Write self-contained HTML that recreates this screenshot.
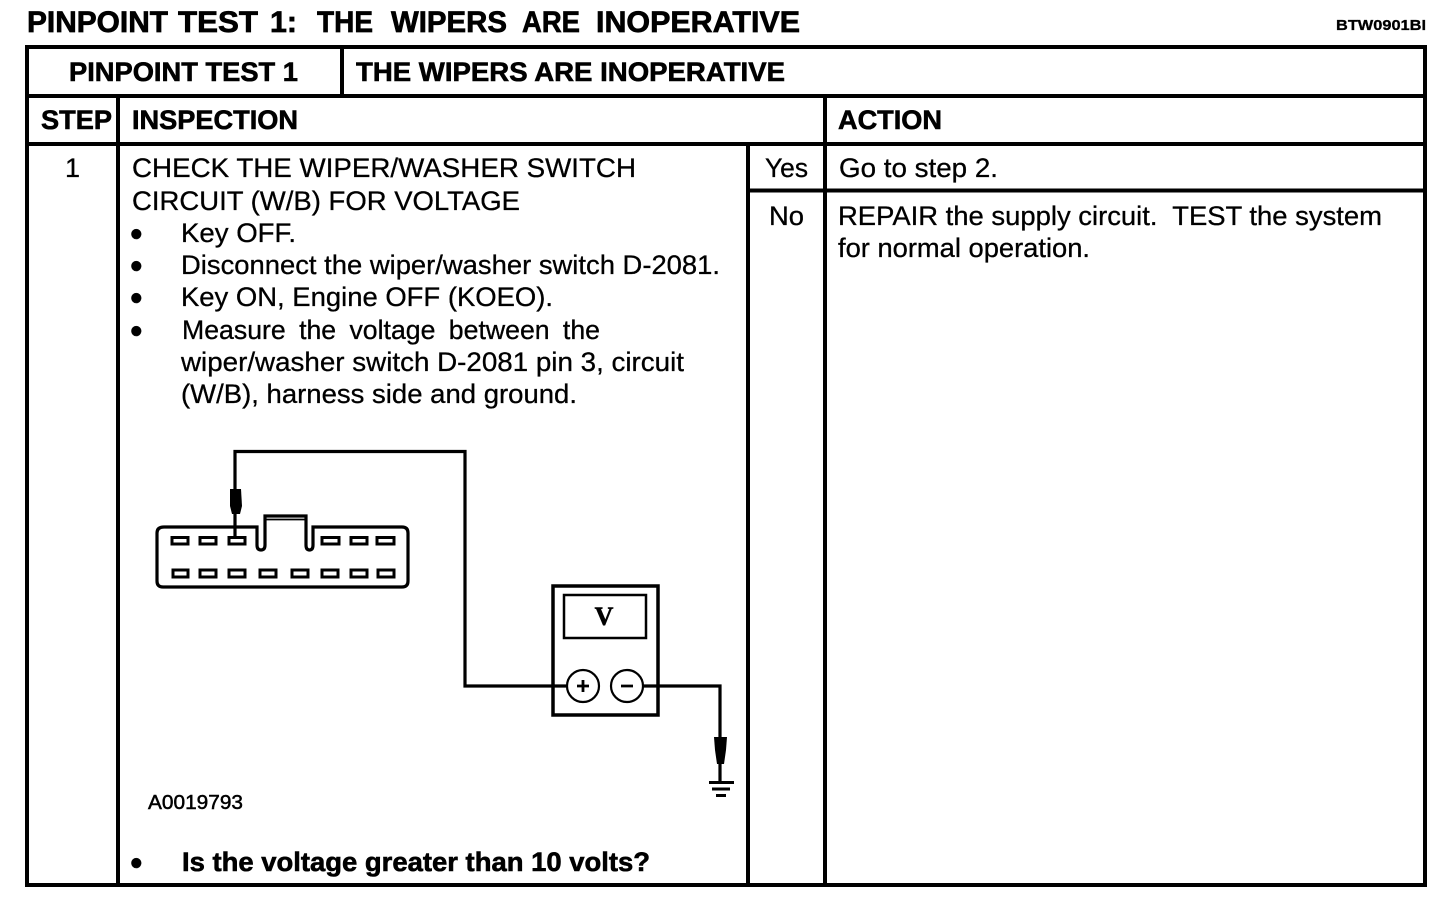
<!DOCTYPE html>
<html>
<head>
<meta charset="utf-8">
<title>Pinpoint Test 1</title>
<style>
html,body{margin:0;padding:0;background:#fff;width:1456px;height:910px;overflow:hidden}
svg{display:block}
text{font-family:"Liberation Sans",sans-serif;fill:#000;stroke:#000;stroke-width:.3px}
.b{font-weight:bold}
.t{font-size:30px;font-weight:bold;stroke-width:.7px}
.h{font-size:27px;font-weight:bold;stroke-width:.6px}
.r{font-size:27px}
.d{font-size:36px;stroke-width:.5px}
</style>
</head>
<body>
<svg width="1456" height="910" viewBox="0 0 1456 910" xmlns="http://www.w3.org/2000/svg">
<rect width="1456" height="910" fill="#fff"/>

<!-- title -->
<text class="t" y="32" x="27" textLength="141" lengthAdjust="spacingAndGlyphs">PINPOINT</text>
<text class="t" y="32" x="178" textLength="80" lengthAdjust="spacingAndGlyphs">TEST</text>
<text class="t" y="32" x="270" textLength="27" lengthAdjust="spacingAndGlyphs">1:</text>
<text class="t" y="32" x="317" textLength="56" lengthAdjust="spacingAndGlyphs">THE</text>
<text class="t" y="32" x="391" textLength="116" lengthAdjust="spacingAndGlyphs">WIPERS</text>
<text class="t" y="32" x="522" textLength="58" lengthAdjust="spacingAndGlyphs">ARE</text>
<text class="t" y="32" x="596" textLength="204" lengthAdjust="spacingAndGlyphs">INOPERATIVE</text>
<text class="b" style="font-size:15px" x="1336" y="30" textLength="90" lengthAdjust="spacingAndGlyphs">BTW0901BI</text>

<!-- table -->
<g fill="none" stroke="#000">
<rect x="27" y="47" width="1398" height="838" stroke-width="4"/>
<path d="M27 96H1425M27 144H1425M748 190.500H1425" stroke-width="4"/>
<path d="M342 47V96M118 96V885M825 96V885M748 144V885" stroke-width="4"/>
</g>

<!-- header text -->
<text class="h" x="69" y="81" textLength="229" lengthAdjust="spacingAndGlyphs">PINPOINT TEST 1</text>
<text class="h" x="356" y="81" textLength="429" lengthAdjust="spacingAndGlyphs">THE WIPERS ARE INOPERATIVE</text>
<text class="h" x="41" y="129" textLength="71" lengthAdjust="spacingAndGlyphs">STEP</text>
<text class="h" x="132" y="129" textLength="166" lengthAdjust="spacingAndGlyphs">INSPECTION</text>
<text class="h" x="838" y="129" textLength="104" lengthAdjust="spacingAndGlyphs">ACTION</text>

<!-- body text -->
<text class="r" x="65" y="177">1</text>
<text class="r" x="132" y="177" textLength="504" lengthAdjust="spacingAndGlyphs">CHECK THE WIPER/WASHER SWITCH</text>
<text class="r" x="132" y="210" textLength="388" lengthAdjust="spacingAndGlyphs">CIRCUIT (W/B) FOR VOLTAGE</text>

<text class="d" x="130" y="246">•</text>
<text class="r" x="181" y="242" textLength="115" lengthAdjust="spacingAndGlyphs">Key OFF.</text>
<text class="d" x="130" y="278">•</text>
<text class="r" x="181" y="274" textLength="539" lengthAdjust="spacingAndGlyphs">Disconnect the wiper/washer switch D-2081.</text>
<text class="d" x="130" y="310">•</text>
<text class="r" x="181" y="306" textLength="372" lengthAdjust="spacingAndGlyphs">Key ON, Engine OFF (KOEO).</text>
<text class="d" x="130" y="343">•</text>
<text class="r" x="182" y="339" word-spacing="6" textLength="418" lengthAdjust="spacingAndGlyphs">Measure the voltage between the</text>
<text class="r" x="181" y="371" textLength="503" lengthAdjust="spacingAndGlyphs">wiper/washer switch D-2081 pin 3, circuit</text>
<text class="r" x="181" y="403" textLength="396" lengthAdjust="spacingAndGlyphs">(W/B), harness side and ground.</text>

<text class="r" x="765" y="177" textLength="43" lengthAdjust="spacingAndGlyphs">Yes</text>
<text class="r" x="769" y="225" textLength="35" lengthAdjust="spacingAndGlyphs">No</text>
<text class="r" x="839" y="177" textLength="159" lengthAdjust="spacingAndGlyphs">Go to step 2.</text>
<text class="r" x="838" y="225" textLength="544" lengthAdjust="spacingAndGlyphs">REPAIR the supply circuit.&#160; TEST the system</text>
<text class="r" x="838" y="257" textLength="252" lengthAdjust="spacingAndGlyphs">for normal operation.</text>

<text style="font-size:20px;stroke-width:.5px" x="148" y="809" textLength="95" lengthAdjust="spacingAndGlyphs">A0019793</text>

<text class="d" x="130" y="875">•</text>
<text class="h" x="182" y="871" textLength="468" lengthAdjust="spacingAndGlyphs">Is the voltage greater than 10 volts?</text>

<!-- connector -->
<g fill="none" stroke="#000">
<path d="M164 527H257V545Q257 550 261 550Q265 550 265 545V516H306V545Q306 550 309.500 550Q313 550 313 545V527H402Q408 527 408 533V581Q408 587 402 587H163Q157 587 157 581V533Q157 527 164 527Z" stroke-width="3.200"/>
<path d="M265 519.500H306" stroke-width="1.800"/>
<g stroke-width="3">
<rect x="172" y="537.500" width="16" height="6.500"/>
<rect x="200" y="537.500" width="16" height="6.500"/>
<rect x="229" y="537.500" width="16" height="6.500"/>
<rect x="322" y="537.500" width="17" height="6.500"/>
<rect x="351" y="537.500" width="16" height="6.500"/>
<rect x="377" y="537.500" width="17" height="6.500"/>
<rect x="173" y="570" width="15" height="7"/>
<rect x="200" y="570" width="16" height="7"/>
<rect x="229" y="570" width="16" height="7"/>
<rect x="260" y="570" width="16" height="7"/>
<rect x="292" y="570" width="16" height="7"/>
<rect x="322" y="570" width="16" height="7"/>
<rect x="351" y="570" width="16" height="7"/>
<rect x="378" y="570" width="16" height="7"/>
</g>
<!-- wiring -->
<path d="M235 538V451.500H465V686H566" stroke-width="3.200"/>
<path d="M643 686H720V782" stroke-width="3.200"/>
<!-- meter -->
<rect x="553" y="586" width="105" height="129" stroke-width="3.500"/>
<rect x="564" y="595" width="82" height="43" stroke-width="2.500"/>
<circle cx="583" cy="686" r="16" stroke-width="2.200" fill="#fff"/>
<circle cx="627" cy="686" r="16" stroke-width="2.200" fill="#fff"/>
<path d="M577 686H589M583 680V692M621 686H633" stroke-width="2.800"/>
<!-- ground -->
<path d="M709 782.500H734" stroke-width="3"/>
<path d="M712 789H730" stroke-width="3"/>
<path d="M716 795.500H726" stroke-width="3"/>
</g>
<!-- probes -->
<path d="M230 489H241L242 506L240 514H232L230 506Z" fill="#000"/>
<path d="M714 737H727L726 750L724 764H717L715 750Z" fill="#000"/>
<text x="604" y="625" text-anchor="middle" style="font-family:'Liberation Serif',serif;font-weight:bold;font-size:26px;stroke-width:.6px">V</text>
</svg>
</body>
</html>
